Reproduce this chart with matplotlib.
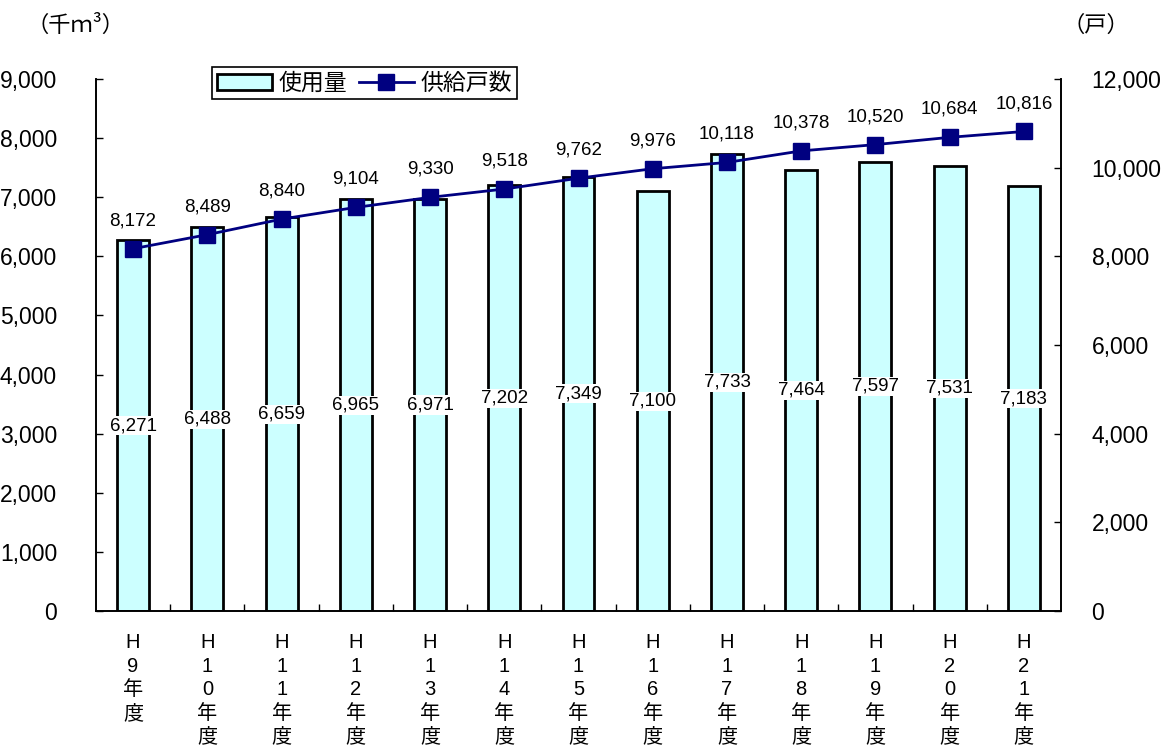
import matplotlib
matplotlib.use("Agg")
import matplotlib.pyplot as plt
from matplotlib.patches import Patch
from matplotlib.lines import Line2D

plt.rcParams['font.family'] = ['Liberation Sans', 'Noto Sans CJK JP', 'DejaVu Sans']

categories = ["H\n9\n年\n度", "H\n1\n0\n年\n度", "H\n1\n1\n年\n度", "H\n1\n2\n年\n度",
              "H\n1\n3\n年\n度", "H\n1\n4\n年\n度", "H\n1\n5\n年\n度", "H\n1\n6\n年\n度",
              "H\n1\n7\n年\n度", "H\n1\n8\n年\n度", "H\n1\n9\n年\n度", "H\n2\n0\n年\n度",
              "H\n2\n1\n年\n度"]
usage = [6271, 6488, 6659, 6965, 6971, 7202, 7349, 7100, 7733, 7464, 7597, 7531, 7183]
households = [8172, 8489, 8840, 9104, 9330, 9518, 9762, 9976, 10118, 10378, 10520, 10684, 10816]
left_ticks = [0, 1000, 2000, 3000, 4000, 5000, 6000, 7000, 8000, 9000]
right_ticks = [0, 2000, 4000, 6000, 8000, 10000, 12000]

fig = plt.figure(figsize=(11.64, 7.45), dpi=100)
ax = fig.add_axes([96/1164, 1 - 611/745, (1061 - 96)/1164, (611 - 79)/745])
ax2 = ax.twinx()

x = list(range(len(categories)))
bar_color = '#CCFFFF'
line_color = '#000080'

ax.bar(x, usage, width=0.43, color=bar_color, edgecolor='black', linewidth=2, zorder=2)
for xi, v in zip(x, usage):
    ax.text(xi, v / 2, f"{v:,}", ha='center', va='center', fontsize=13.5,
            bbox=dict(facecolor='white', edgecolor='none', pad=0.8), zorder=3)

ax.set_xlim(-0.5, len(categories) - 0.5)
ax.set_ylim(0, 9000)
ax.set_yticks(left_ticks)
ax.set_yticklabels([f"{t:,}" for t in left_ticks], fontsize=16.5)
ax.set_xticks(x)
ax.set_xticklabels(categories, fontsize=14.5, linespacing=1.3)
ax.tick_params(axis='x', length=0, pad=16)
ax.set_xticks([i + 0.5 for i in x[:-1]], minor=True)
ax.tick_params(axis='x', which='minor', direction='in', length=5, width=1)
ax.tick_params(axis='y', direction='in', length=5, width=1, pad=28)

ax2.plot(x, households, color=line_color, linewidth=2, marker='s', markersize=12,
         markerfacecolor=line_color, markeredgecolor=line_color, zorder=4)
for xi, v in zip(x, households):
    ax2.annotate(f"{v:,}", (xi, v), xytext=(0, 14), textcoords='offset points',
                 ha='center', va='bottom', fontsize=13.5)
ax2.set_ylim(0, 12000)
ax2.set_yticks(right_ticks)
ax2.set_yticklabels([f"{t:,}" for t in right_ticks], fontsize=16.5)
ax2.tick_params(axis='y', direction='in', length=5, width=1, pad=22)

for a in (ax, ax2):
    a.spines['top'].set_visible(False)
    for s in ('left', 'right', 'bottom'):
        a.spines[s].set_linewidth(1.2)
ax2.patch.set_visible(False)

fig.text(26/1164, 1 - 25/745, "（千ｍ³）", fontsize=16, ha='left', va='center',
         family=['Noto Sans CJK JP', 'DejaVu Sans'])
fig.text(1062/1164, 1 - 25/745, "（戸）", fontsize=16, ha='left', va='center',
         family=['Noto Sans CJK JP', 'DejaVu Sans'])

handles = [Patch(facecolor=bar_color, edgecolor='black', linewidth=2),
           Line2D([0], [0], color=line_color, linewidth=2, marker='s', markersize=12)]
leg = ax.legend(handles, ["使用量", "供給戸数"], loc='upper left',
                bbox_to_anchor=((212 - 96)/965, 1 + 12/532), ncol=2, fontsize=16.5,
                frameon=True, fancybox=False, edgecolor='black', framealpha=1,
                borderpad=0.2, handlelength=2.4, handletextpad=0.3, columnspacing=0.5,
                borderaxespad=0)
leg.get_frame().set_linewidth(1.2)
leg.set_zorder(10)

fig.savefig("out.png", dpi=100)
